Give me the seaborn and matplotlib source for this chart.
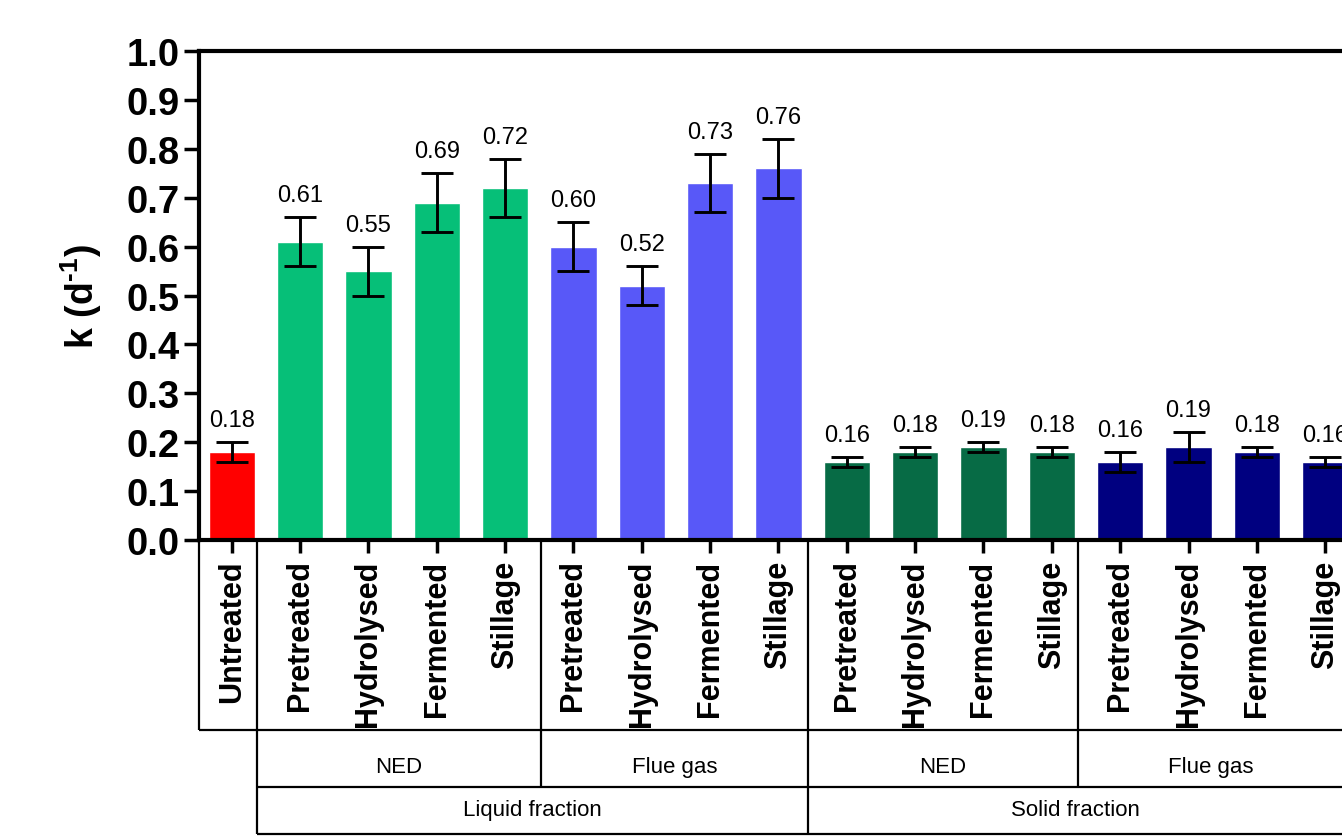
import matplotlib
matplotlib.use("Agg")
import matplotlib.pyplot as plt
import matplotlib.transforms as mtransforms
import numpy as np
import pandas as pd
import seaborn as sns

# ---- data -------------------------------------------------------------
samples = ["Untreated",
           "Pretreated", "Hydrolysed", "Fermented", "Stillage",
           "Pretreated", "Hydrolysed", "Fermented", "Stillage",
           "Pretreated", "Hydrolysed", "Fermented", "Stillage",
           "Pretreated", "Hydrolysed", "Fermented", "Stillage"]
k_values = [0.18,
            0.61, 0.55, 0.69, 0.72,
            0.60, 0.52, 0.73, 0.76,
            0.16, 0.18, 0.19, 0.18,
            0.16, 0.19, 0.18, 0.16]
k_errors = [0.02,
            0.05, 0.05, 0.06, 0.06,
            0.05, 0.04, 0.06, 0.06,
            0.01, 0.01, 0.01, 0.01,
            0.02, 0.03, 0.01, 0.01]
bar_colors = ["#FF0000",
              "#06BF78", "#06BF78", "#06BF78", "#06BF78",
              "#5858F8", "#5858F8", "#5858F8", "#5858F8",
              "#076B45", "#076B45", "#076B45", "#076B45",
              "#000080", "#000080", "#000080", "#000080"]
gas_labels = ["NED", "Flue gas", "NED", "Flue gas"]
fraction_labels = ["Liquid fraction", "Solid fraction"]
y_ticks = [0.0, 0.1, 0.2, 0.3, 0.4, 0.5, 0.6, 0.7, 0.8, 0.9, 1.0]

df = pd.DataFrame({"key": [f"{i:02d}" for i in range(len(samples))],
                   "sample": samples, "k": k_values, "err": k_errors})

# ---- style ------------------------------------------------------------
sns.set_style("ticks")
plt.rcParams["font.family"] = ["Liberation Sans", "DejaVu Sans"]
plt.rcParams["text.color"] = "black"
plt.rcParams["axes.labelcolor"] = "black"
plt.rcParams["xtick.color"] = "black"
plt.rcParams["ytick.color"] = "black"
plt.rcParams["mathtext.fontset"] = "custom"
plt.rcParams["mathtext.rm"] = "Liberation Sans:bold"
plt.rcParams["mathtext.it"] = "Liberation Sans:bold"
plt.rcParams["mathtext.bf"] = "Liberation Sans:bold"

fig = plt.figure(figsize=(13.42, 8.37), dpi=100)
ax = fig.add_axes([0.1483, 0.3536, 0.8636, 0.5842])

sns.barplot(data=df, x="key", y="k", hue="key", palette=bar_colors,
            legend=False, width=0.68, errorbar=None, saturation=1,
            ax=ax, zorder=2)

x = np.arange(len(df))
ax.errorbar(x, df["k"], yerr=df["err"], fmt="none", ecolor="black",
            elinewidth=2.1, capsize=11.5, capthick=2.1, zorder=3)

for xi, v, e in zip(x, df["k"], df["err"]):
    ax.annotate(f"{v:.2f}", (xi, v + e), xytext=(0, 8),
                textcoords="offset points", ha="center", va="bottom",
                fontsize=17, color="black", annotation_clip=False)

# ---- axes -------------------------------------------------------------
ax.set_xlim(-0.48, 16.48)
ax.set_ylim(0, 1.0)
ax.set_yticks(y_ticks)
ax.set_yticklabels([f"{t:.1f}" for t in y_ticks], fontsize=27.5,
                   fontweight="bold")
ax.set_xticks(x)
ax.set_xticklabels(df["sample"], rotation=90, fontsize=22,
                   fontweight="bold", va="top")
ax.tick_params(axis="y", length=11, width=2.5, pad=3)
ax.tick_params(axis="x", length=9, width=2.5, pad=5)
ax.set_xlabel("")
ax.set_ylabel(r"$\mathrm{k\ (d^{\text{-}1})}$", fontsize=27, labelpad=16)

for side in ["left", "bottom", "top"]:
    ax.spines[side].set_visible(True)
    ax.spines[side].set_linewidth(3)
    ax.spines[side].set_color("black")
ax.spines["right"].set_visible(False)

# ---- grouping table below the axis -------------------------------------
trans = mtransforms.blended_transform_factory(ax.transData, ax.transAxes)
row1, row2, row3 = -0.3885, -0.505, -0.601
x_left, x_right = -0.48, 16.25
sep_untreated, sep_liq_gas, sep_fraction, sep_sol_gas = 0.375, 4.52, 8.43, 12.39
lw = 1.6
line_kw = dict(color="black", lw=lw, transform=trans, clip_on=False,
               solid_capstyle="butt")

ax.plot([x_left, x_left], [0, row1], **line_kw)
ax.plot([x_left, x_right], [row1, row1], **line_kw)
ax.plot([sep_untreated, x_right], [row2, row2], **line_kw)
ax.plot([sep_untreated, x_right], [row3, row3], **line_kw)
ax.plot([sep_untreated, sep_untreated], [0, row3], **line_kw)
ax.plot([sep_fraction, sep_fraction], [0, row3], **line_kw)
ax.plot([sep_liq_gas, sep_liq_gas], [0, row2], **line_kw)
ax.plot([sep_sol_gas, sep_sol_gas], [0, row2], **line_kw)

gas_edges = [sep_untreated, sep_liq_gas, sep_fraction, sep_sol_gas, x_right]
for i, lab in enumerate(gas_labels):
    ax.text((gas_edges[i] + gas_edges[i + 1]) / 2, -0.464, lab,
            transform=trans, ha="center", va="center", fontsize=16)
frac_edges = [sep_untreated, sep_fraction, x_right]
for i, lab in enumerate(fraction_labels):
    ax.text((frac_edges[i] + frac_edges[i + 1]) / 2, -0.552, lab,
            transform=trans, ha="center", va="center", fontsize=16)

fig.savefig("out.png", dpi=100)
